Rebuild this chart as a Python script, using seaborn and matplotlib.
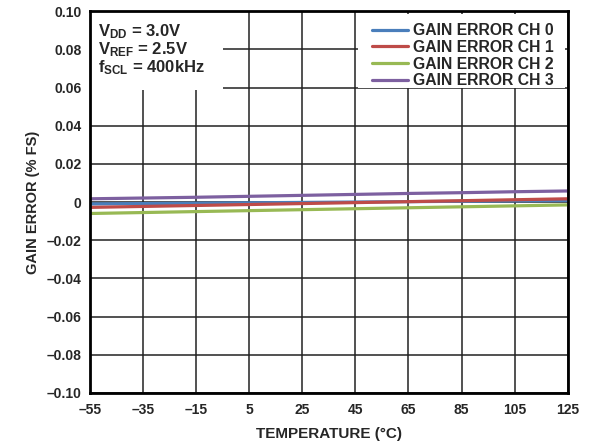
import numpy as np
import pandas as pd
import matplotlib
matplotlib.use("Agg")
import matplotlib.pyplot as plt
from matplotlib.patches import Rectangle
import seaborn as sns

# data
temps = [-55, -35, -15, 5, 25, 45, 65, 85, 105, 125]
ch0 = [-0.0010, -0.0008, -0.0006, -0.0004, -0.0002, 0.0000, 0.0002, 0.0004, 0.0006, 0.0008]
ch1 = [-0.0028, -0.0023, -0.0018, -0.0013, -0.0008, -0.0003, 0.0002, 0.0007, 0.0012, 0.0017]
ch2 = [-0.0060, -0.0055, -0.0050, -0.0045, -0.0040, -0.0035, -0.0030, -0.0025, -0.0020, -0.0015]
ch3 = [0.0017, 0.0021, 0.0025, 0.0030, 0.0035, 0.0040, 0.0045, 0.0049, 0.0054, 0.0058]
names = ["GAIN ERROR CH 0", "GAIN ERROR CH 1", "GAIN ERROR CH 2", "GAIN ERROR CH 3"]
colors = ["#4a7ebb", "#be4b48", "#98b954", "#7d60a0"]

x_ticks = [-55, -35, -15, 5, 25, 45, 65, 85, 105, 125]
x_labels = ["–55", "–35", "–15", "5", "25", "45", "65", "85", "105", "125"]
y_ticks = [-0.10, -0.08, -0.06, -0.04, -0.02, 0, 0.02, 0.04, 0.06, 0.08, 0.10]
y_labels = ["–0.10", "–0.08", "–0.06", "–0.04", "–0.02", "0", "0.02", "0.04", "0.06", "0.08", "0.10"]
notes = ["$\\mathbf{V_{DD}}$ = 3.0V", "$\\mathbf{V_{REF}}$ = 2.5V", "$\\mathbf{f_{SCL}}$ = 400kHz"]

df = pd.DataFrame({
    "temp": temps * 4,
    "err": ch0 + ch1 + ch2 + ch3,
    "ch": sum([[n] * len(temps) for n in names], []),
})

sns.set_style("white")
plt.rcParams["font.family"] = ["Liberation Sans", "DejaVu Sans"]
plt.rcParams["font.weight"] = "bold"
plt.rcParams["mathtext.fontset"] = "custom"
plt.rcParams["mathtext.rm"] = "Liberation Sans:bold"
plt.rcParams["mathtext.bf"] = "Liberation Sans:bold"

fig = plt.figure(figsize=(5.92, 4.46), dpi=100)
ax = fig.add_axes([0.152, 0.119, 0.807, 0.856])

sns.lineplot(data=df, x="temp", y="err", hue="ch", palette=colors, linewidth=2.3, ax=ax, zorder=3)

ax.set_xlim(-55, 125)
ax.set_ylim(-0.10, 0.10)
ax.set_xticks(x_ticks)
ax.set_xticklabels(x_labels, fontsize=10, fontweight="bold")
ax.set_yticks(y_ticks)
ax.set_yticklabels(y_labels, fontsize=10, fontweight="bold")
ax.tick_params(axis="x", length=0, pad=7)
ax.tick_params(axis="y", length=0, pad=6)
ax.grid(True, color="#222222", linewidth=1.1)
ax.set_axisbelow(True)
for s in ax.spines.values():
    s.set_color("black")
    s.set_linewidth(2)
    s.set_zorder(5)

ax.set_xlabel("TEMPERATURE (°C)", fontsize=11, fontweight="bold")
ax.set_ylabel("GAIN ERROR (% FS)", fontsize=10.5, fontweight="bold")
ax.xaxis.set_label_coords(0.5, -0.09)
ax.yaxis.set_label_coords(-0.105, 0.5)

# white boxes behind legend and conditions note
ax.add_patch(Rectangle((0.561, 0.798), 0.433, 0.194, transform=ax.transAxes,
                       facecolor="white", edgecolor="none", zorder=4))
ax.add_patch(Rectangle((0, 0.793), 0.278, 0.207, transform=ax.transAxes,
                       facecolor="white", edgecolor="none", zorder=4))

leg = ax.legend(loc="upper left", bbox_to_anchor=(0.59, 0.968), prop={"size": 11.3, "weight": "bold"},
                frameon=False, borderaxespad=0, borderpad=0, handlelength=2.3,
                labelspacing=0.1, handletextpad=0.32)
leg.set_zorder(6)

ax.text(0.017, 0.972, "\n".join(notes), transform=ax.transAxes, fontsize=12,
        fontweight="bold", va="top", ha="left", linespacing=0.95, zorder=6)

fig.savefig("out.png", dpi=100)
